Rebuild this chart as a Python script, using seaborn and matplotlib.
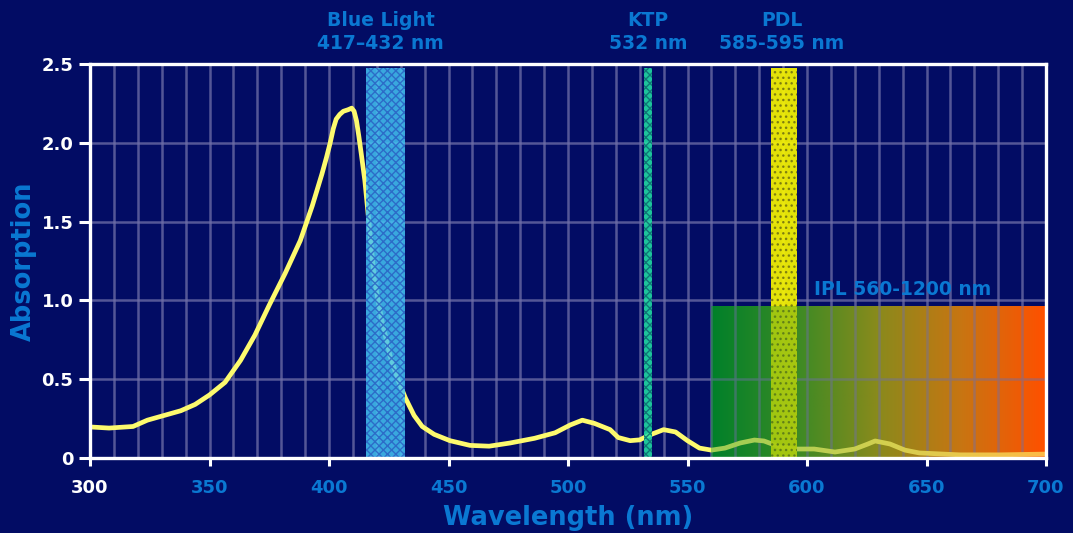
import numpy as np
import pandas as pd
import matplotlib
matplotlib.use('Agg')
import matplotlib.pyplot as plt
from matplotlib.colors import LinearSegmentedColormap
import seaborn as sns

# absorption spectrum
wavelength = [300, 308, 318, 321, 324, 331, 338, 344, 350, 356.5, 363, 369, 375,
              381.6, 388, 393, 397, 399, 400.5, 401.8, 403, 404.5, 406, 408, 409.5,
              410.5, 411.5, 412.5, 413.5, 415, 417, 419, 422, 425.5, 429, 432,
              435.6, 439, 444, 450.6, 459, 467, 475.7, 486, 494.6, 501, 506, 511,
              517.6, 521, 526, 530, 534, 540, 545, 550, 555, 560, 565.7, 572, 578,
              582, 588.7, 595, 603, 611.7, 620, 625.5, 628.5, 634.7, 641, 647, 664,
              680.8, 700]
absorption = [0.197, 0.19, 0.20, 0.22, 0.24, 0.27, 0.30, 0.34, 0.40, 0.48, 0.62,
              0.78, 0.97, 1.17, 1.38, 1.60, 1.80, 1.91, 2.00, 2.09, 2.15, 2.18,
              2.20, 2.21, 2.22, 2.20, 2.14, 2.04, 1.93, 1.76, 1.45, 1.13, 0.88,
              0.65, 0.49, 0.38, 0.27, 0.20, 0.15, 0.11, 0.08, 0.075, 0.095, 0.125,
              0.16, 0.21, 0.24, 0.22, 0.18, 0.13, 0.11, 0.115, 0.145, 0.18, 0.165,
              0.11, 0.063, 0.05, 0.063, 0.095, 0.114, 0.108, 0.07, 0.057, 0.057,
              0.038, 0.057, 0.089, 0.108, 0.089, 0.05, 0.032, 0.02, 0.02, 0.025]

# laser / light source bands (nm)
blue_band = (415.5, 432)
ktp_band = (532, 535)
pdl_band = (585, 596)
ipl_range = (560, 700)
ipl_height = 0.96

band_labels = ['Blue Light\n417\u2013432 nm', 'KTP\n532 nm', 'PDL\n585-595 nm']
band_label_x = [421.5, 533.5, 589.5]

x_ticks = list(range(300, 701, 50))
y_ticks = [0, 0.5, 1.0, 1.5, 2.0, 2.5]
y_tick_labels = ['0', '0.5', '1.0', '1.5', '2.0', '2.5']

navy = '#020c64'
blue_txt = '#0a78d2'

sns.set_style('dark', rc={
    'axes.facecolor': navy,
    'figure.facecolor': navy,
    'axes.edgecolor': 'white',
    'grid.color': '#7070a8',
})
plt.rcParams['font.family'] = ['DejaVu Sans']
plt.rcParams['font.weight'] = 'bold'
plt.rcParams['hatch.linewidth'] = 1.0

fig = plt.figure(figsize=(10.73, 5.33), dpi=100)
ax = fig.add_axes([90 / 1073, 1 - 458 / 533, 956 / 1073, 394 / 533])

df = pd.DataFrame({'Wavelength': wavelength, 'Absorption': absorption})

# IPL gradient (opaque underlay)
cmap = LinearSegmentedColormap.from_list(
    'ipl', ['#00802a', '#3a8a25', '#8a8a1c', '#c87512', '#ff5000'])
grad = np.linspace(0, 1, 256).reshape(1, -1)
ax.imshow(grad, cmap=cmap, aspect='auto', zorder=0.3,
          extent=[ipl_range[0], ipl_range[1], 0, ipl_height])

ax.set_axisbelow(True)
ax.grid(True, which='both', axis='x', color='#7070a8', linewidth=1.8, alpha=0.75)
ax.grid(True, which='major', axis='y', color='#7070a8', linewidth=1.8, alpha=0.75)

sns.lineplot(data=df, x='Wavelength', y='Absorption', ax=ax,
             color='#fdfa6e', linewidth=3.4, zorder=2,
             solid_joinstyle='round', solid_capstyle='round')

ax.axvspan(*blue_band, ymin=0, ymax=0.99, facecolor='#44c4f4', alpha=0.85,
           edgecolor='#2a62c4', hatch='xxxx', linewidth=0, zorder=3)
ax.axvspan(*ktp_band, ymin=0, ymax=0.99, facecolor='#22e6a6', alpha=0.85,
           edgecolor='#0c6a70', hatch='xxxx', linewidth=0, zorder=3)
ax.axvspan(*pdl_band, ymin=0, ymax=0.99, facecolor='#f8f500', alpha=0.92,
           edgecolor='#7a7a10', hatch='...', linewidth=0, zorder=3)

# semi-transparent gradient overlay so curve and PDL band look tinted
ax.imshow(grad, cmap=cmap, aspect='auto', zorder=4, alpha=0.38,
          extent=[ipl_range[0], ipl_range[1], 0, ipl_height])

ax.text(640, 1.07, 'IPL 560-1200 nm', color=blue_txt, fontsize=13.5,
        fontweight='bold', ha='center', va='center', zorder=5)

tr = ax.get_xaxis_transform()
for lbl, xx in zip(band_labels, band_label_x):
    ax.text(xx, 1.081, lbl, transform=tr, color=blue_txt, fontsize=13.5,
            fontweight='bold', ha='center', va='center', linespacing=1.3,
            clip_on=False)

ax.set_xlim(300, 700)
ax.set_ylim(0, 2.5)
ax.set_xticks(x_ticks)
ax.set_xticks(list(range(300, 701, 10)), minor=True)
ax.set_yticks(y_ticks)
ax.set_yticklabels(y_tick_labels)
ax.tick_params(axis='x', which='major', length=6, width=2.2, color='white',
               direction='out', bottom=True, labelsize=13, pad=9)
ax.tick_params(axis='x', which='minor', length=0)
ax.tick_params(axis='y', length=8, width=2.2, color='white', direction='out',
               left=True, labelsize=13, labelcolor='white', pad=4)
for i, t in enumerate(ax.get_xticklabels()):
    t.set_color('white' if i == 0 else blue_txt)
    t.set_fontweight('bold')
for t in ax.get_yticklabels():
    t.set_fontweight('bold')

for s in ax.spines.values():
    s.set_color('white')
    s.set_linewidth(2.4)
    s.set_zorder(6)

ax.set_xlabel('Wavelength (nm)', color=blue_txt, fontsize=18.5, fontweight='bold', labelpad=6)
ax.set_ylabel('Absorption', color=blue_txt, fontsize=18.5, fontweight='bold', labelpad=3)

fig.savefig('out.png', dpi=100, facecolor=navy)
